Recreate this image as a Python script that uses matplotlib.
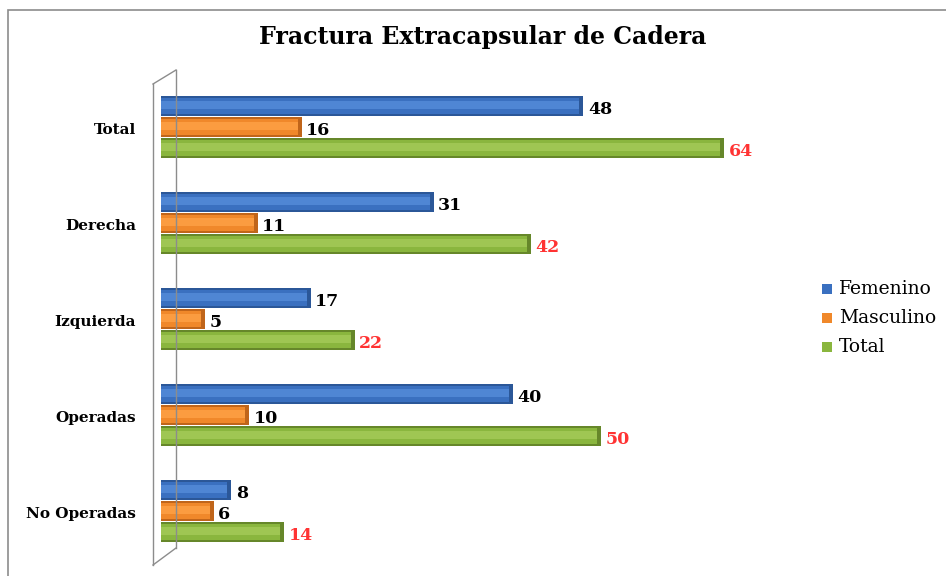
import matplotlib.pyplot as plt
from matplotlib.patches import Rectangle
import numpy as np

# ---- data ----
categories = ['Total', 'Derecha', 'Izquierda', 'Operadas', 'No Operadas']
femenino = [48, 31, 17, 40, 8]
masculino = [16, 11, 5, 10, 6]
total = [64, 42, 22, 50, 14]
series_names = ['Femenino', 'Masculino', 'Total']

W, H = 946, 576
fig = plt.figure(figsize=(W / 100, H / 100), dpi=100)

# chart frame
fig.add_artist(Rectangle((8 / W, -0.05), 1.2, (H - 10) / H + 0.05, transform=fig.transFigure,
                         fill=False, edgecolor='#8c8c8c', linewidth=1.2))

# axes placed in pixel terms
ax_left, ax_right, ax_top, ax_bot = 161, 800, 78, 565
ax = fig.add_axes([ax_left / W, (H - ax_bot) / H, (ax_right - ax_left) / W, (ax_bot - ax_top) / H])
px_per_unit = 8.8
ax.set_xlim(0, (ax_right - ax_left) / px_per_unit)
ax.set_ylim(4.5625, -0.51)
ax.axis('off')

h = 0.219
y = np.arange(len(categories))
styles = [
    (femenino, '#3a70c0', '#2b5798', '#4f86d4', 'black', -h),
    (masculino, '#f0882a', '#c0651a', '#fb9c40', 'black', 0),
    (total, '#8ab63e', '#66872a', '#9fc653', '#ff3333', h),
]
label_font = dict(family='DejaVu Serif', weight='bold', fontsize=12.5)

for vals, col, dark, light, tcol, off in styles:
    yy = y + off
    ax.barh(yy, vals, height=h * 0.97, color=col, edgecolor='none', zorder=3)
    # lighter band for rounded look
    ax.barh(yy - h * 0.05, vals, height=h * 0.4, color=light, edgecolor='none', zorder=3.1)
    # darker top edge
    ax.barh(yy - h * 0.43, vals, height=h * 0.1, color=dark, edgecolor='none', zorder=3.2)
    # darker bottom edge
    ax.barh(yy + h * 0.44, vals, height=h * 0.08, color=dark, edgecolor='none', zorder=3.2)
    # side face at bar end
    ax.barh(yy, [0.45] * len(vals), left=np.array(vals) - 0.45, height=h * 0.97,
            color=dark, edgecolor='none', zorder=3.3)
    for yi, v in zip(yy, vals):
        ax.text(v + 0.5, yi + 0.04, str(v), color=tcol, ha='left', va='center', zorder=5, **label_font)

# category labels
for yi, c in zip(y, categories):
    ax.text(-25 / px_per_unit, yi + 0.03, c, ha='right', va='center', family='DejaVu Serif',
            weight='bold', fontsize=11)

# 3D back wall lines
wall = dict(color='#8c8c8c', linewidth=1.0, transform=fig.transFigure, clip_on=False)
def fx(p):
    return p / W
def fy(p):
    return (H - p) / H
fig.add_artist(plt.Line2D([fx(153), fx(153)], [fy(84), fy(565)], **wall))
fig.add_artist(plt.Line2D([fx(153), fx(176)], [fy(84), fy(70)], **wall))
fig.add_artist(plt.Line2D([fx(176), fx(176)], [fy(70), fy(548)], **wall))
fig.add_artist(plt.Line2D([fx(153), fx(176)], [fy(565), fy(548)], **wall))

# title
fig.text(483 / W, fy(37), 'Fractura Extracapsular de Cadera', ha='center', va='center',
         family='DejaVu Serif', weight='bold', fontsize=17)

# legend
leg_cols = ['#3a70c0', '#f0882a', '#8ab63e']
for i, (name, c) in enumerate(zip(series_names, leg_cols)):
    yp = 289 + i * 29
    fig.add_artist(Rectangle((fx(822), fy(yp + 5)), 10 / W, 10 / H, transform=fig.transFigure,
                             facecolor=c, edgecolor='none'))
    fig.text(fx(839), fy(yp), name, ha='left', va='center', family='DejaVu Serif', fontsize=13.5)

plt.savefig('out.png', dpi=100)
